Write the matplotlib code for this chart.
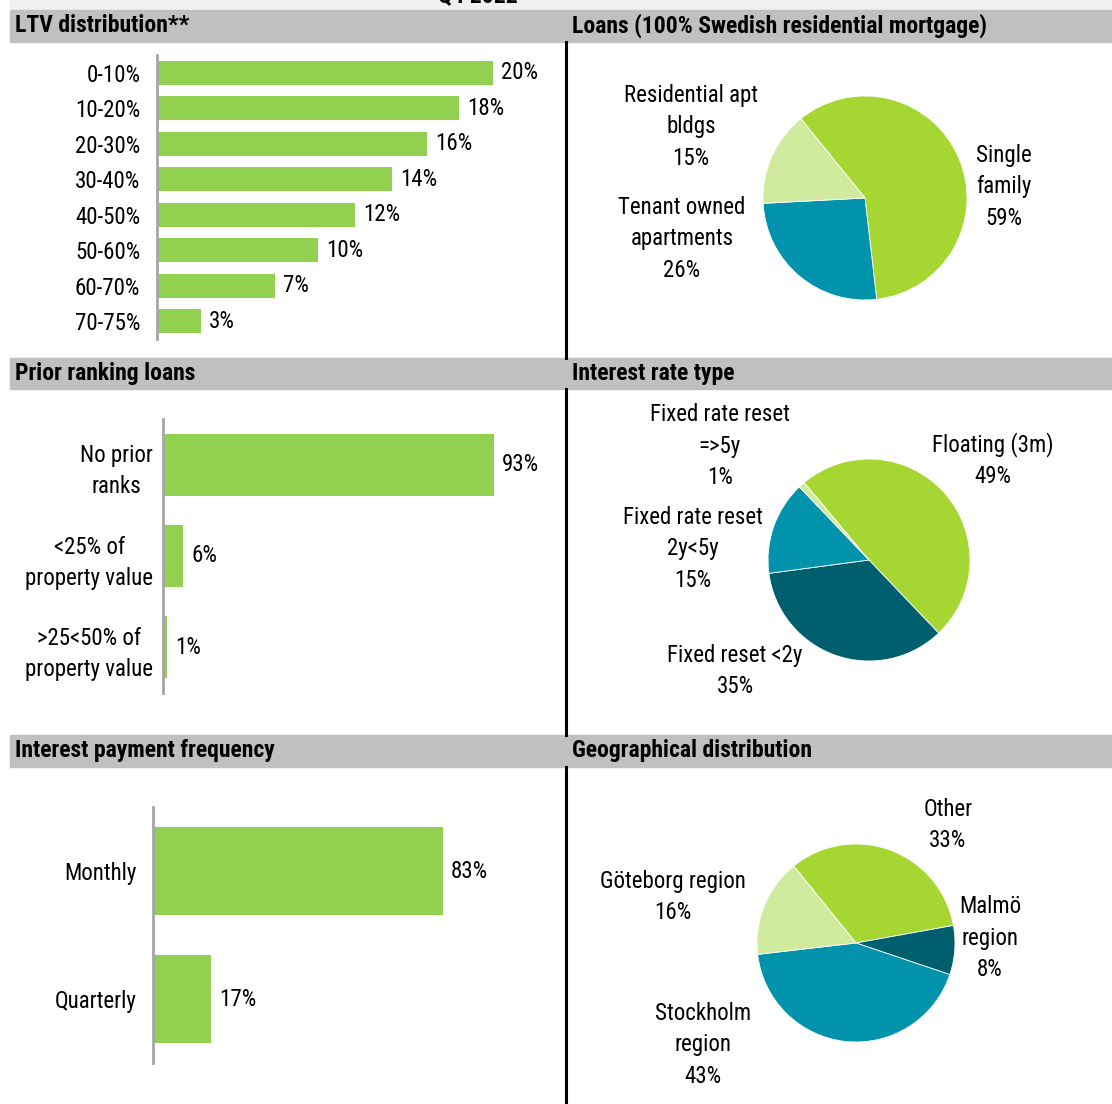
import matplotlib
matplotlib.use('Agg')
import matplotlib.pyplot as plt
import matplotlib.font_manager as fm
from matplotlib.patches import Rectangle
from matplotlib.lines import Line2D

W, H = 1112, 1104

# data
ltv_cats = ['0-10%', '10-20%', '20-30%', '30-40%', '40-50%', '50-60%', '60-70%', '70-75%']
ltv_vals = [20.0, 18.0, 16.1, 14.0, 11.8, 9.6, 7.0, 2.6]

prior_cats = ['No prior\nranks', '<25% of\nproperty value', '>25<50% of\nproperty value']
prior_vals = [93.0, 5.7, 1.1]

freq_cats = ['Monthly', 'Quarterly']
freq_vals = [83.0, 16.6]

loan_labels = ['Single\nfamily', 'Tenant owned\napartments', 'Residential apt\nbldgs']
loan_vals = [59, 26, 15]

rate_labels = ['Floating (3m)', 'Fixed reset <2y', 'Fixed rate reset\n2y<5y', 'Fixed rate reset\n=>5y']
rate_vals = [49, 35, 15, 1]

geo_labels = ['Other', 'Malmö\nregion', 'Stockholm\nregion', 'Göteborg region']
geo_vals = [33, 8, 43, 16]

BAR = '#92d050'
GREEN = '#a5d631'
TEAL = '#0093ab'
DARK = '#005f6f'
PALE = '#d1eb9e'

# pick a narrow font if one is installed
names = {f.name for f in fm.fontManager.ttflist}
narrow = [n for n in ['Roboto Condensed', 'Liberation Sans Narrow', 'Open Sans Condensed',
                      'DejaVu Sans Condensed', 'Noto Sans Condensed'] if n in names]
cond = [f.name for f in fm.fontManager.ttflist if f.stretch in ('condensed', 'semi-condensed')]
if narrow:
    plt.rcParams['font.family'] = [narrow[0], 'DejaVu Sans']
    FS, TFS = 16.5, 17
elif cond:
    plt.rcParams['font.family'] = [cond[0], 'DejaVu Sans']
    plt.rcParams['font.stretch'] = 'condensed'
    FS, TFS = 16.5, 17
else:
    plt.rcParams['font.family'] = ['Roboto', 'DejaVu Sans']
    FS, TFS = 14, 14

fig = plt.figure(figsize=(W / 100, H / 100), dpi=100)


def rect(x0, y0, x1, y1):
    return [x0 / W, 1 - y1 / H, (x1 - x0) / W, (y1 - y0) / H]


def fy(y):
    return 1 - y / H


# background bands and headers
fig.patches.append(Rectangle((10 / W, fy(10)), (W - 10) / W, 10 / H, transform=fig.transFigure,
                             color='#f0f0f0', zorder=0))
fig.text(478 / W, fy(2), 'Q4 2022', ha='center', va='baseline', fontsize=TFS, fontweight='bold')

headers = [
    (10, 42, 'LTV distribution**', 'Loans (100% Swedish residential mortgage)'),
    (358, 389, 'Prior ranking loans', 'Interest rate type'),
    (735, 767, 'Interest payment frequency', 'Geographical distribution'),
]
for y0, y1, left, right in headers:
    fig.patches.append(Rectangle((10 / W, fy(y1)), (W - 10) / W, (y1 - y0) / H,
                                 transform=fig.transFigure, color='#c0c0c0', zorder=0))
    ym = fy((y0 + y1) / 2)
    fig.text(15 / W, ym, left, ha='left', va='center', fontsize=TFS, fontweight='bold')
    fig.text(572 / W, ym, right, ha='left', va='center', fontsize=TFS, fontweight='bold')

for y0, y1 in [(42, 358), (389, 735), (767, 1104)]:
    fig.lines.append(Line2D([566 / W, 566 / W], [fy(y0), fy(y1)], transform=fig.transFigure,
                            color='black', linewidth=2.2))


def bar_panel(box, cats, vals, xmax, pad, center=False):
    ax = fig.add_axes(rect(*box))
    ypos = range(len(cats))
    ax.barh(ypos, vals, height=0.68, color=BAR)
    ax.set_xlim(0, xmax)
    ax.set_ylim(len(cats) - 0.5, -0.5)
    ax.set_yticks(list(ypos))
    ax.set_yticklabels(cats, fontsize=FS, linespacing=1.45)
    if center:
        for t in ax.get_yticklabels():
            t.set_multialignment('center')
    ax.tick_params(axis='y', length=0, pad=pad)
    ax.set_xticks([])
    for s in ['top', 'right', 'bottom']:
        ax.spines[s].set_visible(False)
    ax.spines['left'].set_color('#a6a6a6')
    ax.spines['left'].set_linewidth(2)
    for y, v in zip(ypos, vals):
        ax.text(v + xmax * 0.02, y, f'{v:.0f}%', va='center', ha='left', fontsize=FS)
    ax.patch.set_alpha(0)
    return ax


bar_panel((157, 55, 560, 339), ltv_cats, ltv_vals, 24.0, 12)
bar_panel((163, 419, 560, 693), prior_cats, prior_vals, 111.5, 7, center=True)
bar_panel((153, 807, 560, 1063), freq_cats, freq_vals, 116.6, 12)


def pie_panel(cx, cy, r, vals, labels, colors, start, label_px):
    ax = fig.add_axes(rect(cx - r, cy - r, cx + r, cy + r))
    ax.pie(vals, colors=colors, startangle=start, counterclock=False, radius=1,
           wedgeprops=dict(edgecolor='white', linewidth=0.6))
    ax.set_xlim(-1, 1)
    ax.set_ylim(-1, 1)
    ax.set_aspect('equal')
    ax.axis('off')
    for lab, v, (lx, ly) in zip(labels, vals, label_px):
        ax.text((lx - cx) / r, -(ly - cy) / r, f'{lab}\n{v}%', ha='center', va='center',
                fontsize=FS, linespacing=1.45, clip_on=False)


pie_panel(865, 198, 102, loan_vals, loan_labels, [GREEN, TEAL, PALE], 129,
          [(1004, 187), (682, 239), (691, 127)])
pie_panel(869, 560, 101, rate_vals, rate_labels, [GREEN, DARK, TEAL, PALE], 130,
          [(993, 460), (735, 671), (693, 549), (720, 446)])
pie_panel(856, 943, 99, geo_vals, geo_labels, [GREEN, DARK, TEAL, PALE], 129,
          [(948, 825), (990, 938), (703, 1045), (673, 897)])

fig.savefig('out.png', dpi=100, facecolor='white')
